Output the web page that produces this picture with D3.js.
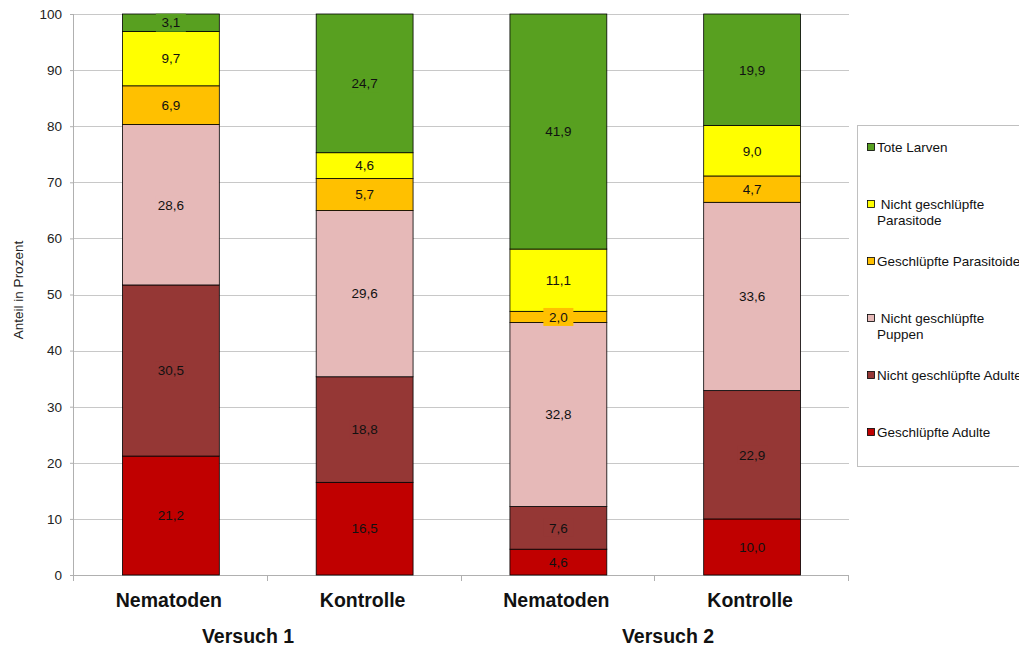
<!DOCTYPE html>
<html><head><meta charset="utf-8">
<script src="https://cdn.jsdelivr.net/npm/d3@7"></script>
<style>body{margin:0;background:#fff}svg{font-family:"Liberation Sans",Arial,sans-serif}</style>
</head><body><svg id="c" width="1019" height="648"></svg>
<script>
const categories = ["Nematoden","Kontrolle","Nematoden","Kontrolle"];
const groups = ["Versuch 1","Versuch 2"];
const seriesNames = ["Geschlüpfte Adulte","Nicht geschlüpfte Adulte","Nicht geschlüpfte Puppen","Geschlüpfte Parasitoide","Nicht geschlüpfte Parasitode","Tote Larven"];
const geschlAdulte = [21.2,16.5,4.6,10.0];
const nichtAdulte = [30.5,18.8,7.6,22.9];
const puppen = [28.6,29.6,32.8,33.6];
const geschlParasitoide = [6.9,5.7,2.0,4.7];
const nichtParasitode = [9.7,4.6,11.1,9.0];
const toteLarven = [3.1,24.7,41.9,19.9];
const colors = ["#C00000","#953735","#E6B9B8","#FFC000","#FFFF00","#58A020"];
const yTicks = [0,10,20,30,40,50,60,70,80,90,100];

const seriesValues = [geschlAdulte,nichtAdulte,puppen,geschlParasitoide,nichtParasitode,toteLarven];
const svg = d3.select("#c");
const pL=74, pR=849, pT=14, pB=575;
const x = d3.scaleBand().domain(d3.range(categories.length)).range([pL,pR]).paddingInner(0.5).paddingOuter(0.25);
const y = d3.scaleLinear().domain([0,100]).range([pB,pT]);

// gridlines
svg.append("g").selectAll("line").data(yTicks.filter(d=>d>0)).join("line")
  .attr("x1",pL).attr("x2",pR).attr("y1",d=>Math.round(y(d))+0.5).attr("y2",d=>Math.round(y(d))+0.5)
  .attr("stroke","#c8c8c8").attr("stroke-width",1);

// y axis
const ya = svg.append("g").attr("transform",`translate(${pL},0)`).call(d3.axisLeft(y).tickValues(yTicks).tickSize(4).tickPadding(8));
ya.select(".domain").attr("stroke","#b0b0b0").attr("d",`M-0.5,${pT}V${pB}`);
ya.selectAll(".tick line").attr("stroke","#b0b0b0");
ya.selectAll("text").attr("font-size",13.5).attr("fill","#222").attr("font-family","Liberation Sans, Arial, sans-serif");

// x axis
const xa = svg.append("g").attr("transform",`translate(0,${pB})`);
xa.append("line").attr("x1",pL).attr("x2",pR).attr("y1",0.5).attr("y2",0.5).attr("stroke","#b0b0b0");
const step = (pR-pL)/categories.length;
xa.selectAll("line.t").data(d3.range(categories.length+1)).join("line").attr("class","t")
  .attr("x1",d=>Math.round(pL+d*step)-0.5).attr("x2",d=>Math.round(pL+d*step)-0.5).attr("y1",0).attr("y2",6).attr("stroke","#b0b0b0");
svg.append("g").selectAll("text").data(categories).join("text")
  .attr("x",(d,i)=>x(i)+x.bandwidth()/2-2).attr("y",607).attr("text-anchor","middle")
  .attr("font-size",19.5).attr("font-weight","bold").attr("fill","#111").text(d=>d);
svg.append("g").selectAll("text").data(groups).join("text")
  .attr("x",(d,i)=>[248,668][i]).attr("y",643).attr("text-anchor","middle")
  .attr("font-size",19.5).attr("font-weight","bold").attr("fill","#111").text(d=>d);

// y title
svg.append("text").attr("transform","translate(23,290) rotate(-90)").attr("text-anchor","middle")
  .attr("font-size",13.5).attr("fill","#222").text("Anteil in Prozent");

// stacks
const rows = categories.map((c,i)=>{const o={i}; seriesValues.forEach((s,k)=>o[k]=s[i]); return o;});
const stack = d3.stack().keys(d3.range(seriesValues.length)).offset(d3.stackOffsetExpand)(rows);
const bars = svg.append("g");
stack.forEach((layer,k)=>{
  bars.selectAll(null).data(layer).join("rect")
    .attr("x",d=>x(d.data.i)).attr("width",x.bandwidth())
    .attr("y",d=>y(d[1]*100)).attr("height",d=>y(d[0]*100)-y(d[1]*100))
    .attr("fill",colors[k]).attr("stroke","#000").attr("stroke-width",0.8);
});
const labels = svg.append("g");
stack.forEach((layer,k)=>{
  layer.forEach(d=>{
    const cx = x(d.data.i)+x.bandwidth()/2, cy = y((d[0]+d[1])/2*100);
    const txt = d3.format(".1f")(seriesValues[k][d.data.i]).replace(".",",");
    labels.append("rect").attr("x",cx-15).attr("y",cy-9).attr("width",30).attr("height",18).attr("fill",colors[k]);
    labels.append("text").attr("x",cx).attr("y",cy+4.8).attr("text-anchor","middle")
      .attr("font-size",13.5).attr("fill","#111").text(txt);
  });
});

// legend
const lg = svg.append("g");
lg.append("rect").attr("x",857.5).attr("y",125.5).attr("width",200).attr("height",341).attr("fill","#fff").attr("stroke","#c0c0c0");
const legendItems = [
  {k:5, lines:["Tote Larven"], y:147},
  {k:4, lines:[" Nicht geschlüpfte","Parasitode"], y:204},
  {k:3, lines:["Geschlüpfte Parasitoide"], y:261},
  {k:2, lines:[" Nicht geschlüpfte","Puppen"], y:318},
  {k:1, lines:["Nicht geschlüpfte Adulte"], y:375},
  {k:0, lines:["Geschlüpfte Adulte"], y:432}
];
legendItems.forEach(it=>{
  lg.append("rect").attr("x",867.5).attr("y",it.y-3.5).attr("width",7).attr("height",7).attr("fill",colors[it.k]).attr("stroke","#000").attr("stroke-width",0.8);
  it.lines.forEach((l,j)=>{
    lg.append("text").attr("x",877).attr("y",it.y+4.8+j*16).attr("font-size",13.5).attr("fill","#111").attr("xml:space","preserve").style("white-space","pre").text(l);
  });
});
</script></body></html>
